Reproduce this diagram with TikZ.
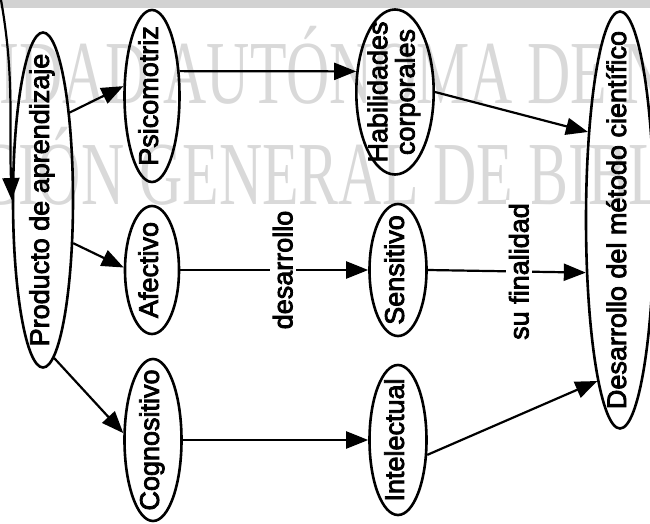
\documentclass[tikz,border=0pt]{standalone}
\usepackage{fontspec}
\setmainfont{Liberation Sans}[FakeBold=3]
\newfontfamily\marcafont{Liberation Serif}
\usetikzlibrary{shapes.geometric,arrows.meta}

% texto del ovalo sin ensanchar la elipse
\newcommand{\rotulo}[1]{\makebox[0pt]{\begin{tabular}{@{}c@{}}#1\end{tabular}}}

\tikzset{
  ovalo/.style={ellipse,draw,line width=2.6pt,inner sep=0pt,rotate=90,
    font=\fontsize{27}{26}\selectfont},
  flecha/.style={-{Triangle[length=22pt,width=17pt]},line width=2.2pt},
  etiqueta/.style={fill=white,rotate=90,inner sep=3pt,font=\fontsize{27}{27}\selectfont},
  marca/.style={text=gray!30,inner sep=0pt,xscale=0.665,
    font=\marcafont\fontsize{90}{90}\selectfont}
}

\begin{document}
\begin{tikzpicture}[x=1pt,y=1pt]
    % marco
    \useasboundingbox (0,0) rectangle (650,-524);
    \clip (0,0) rectangle (650,-524);
    \fill[gray!35] (0,0) rectangle (650,-8);

    % marca de agua
    \node[marca,anchor=base west] (marca1) at (-1,-104) {\llap{UNIVERS}IDAD AUTÓNOMA DE NUEVO LEÓN};
    \node[marca,anchor=base west] (marca2) at (-22,-204) {\llap{DIREC}CIÓN GENERAL DE BIBLIOTECAS};

    % producto
    \node[ovalo,minimum width=335pt,minimum height=60pt] (prod) at (43,-200) {\rotulo{Producto de aprendizaje}};

    % areas
    \node[ovalo,minimum width=172pt,minimum height=55pt] (psico) at (152,-96) {\rotulo{Psicomotriz}};
    \node[ovalo,minimum width=128pt,minimum height=54pt] (afect) at (152,-270) {\rotulo{Afectivo}};
    \node[ovalo,minimum width=162pt,minimum height=57pt] (cogn) at (153,-440) {\rotulo{Cognositivo}};

    % desarrollo de cada area
    \node[ovalo,minimum width=165pt,minimum height=76pt] (habil) at (395,-92) {\rotulo{Habilidades\\corporales}};
    \node[ovalo,minimum width=132pt,minimum height=57pt] (sens) at (398,-270) {\rotulo{Sensitivo}};
    \node[ovalo,minimum width=150pt,minimum height=57pt] (intel) at (398,-440) {\rotulo{Intelectual}};

    % finalidad
    \node[ovalo,minimum width=417pt,minimum height=68pt] (des) at (620,-220) {\rotulo{Desarrollo del método científico}};

    % flecha de entrada
    \coordinate (entrada) at (1,0);
    \draw[flecha] (entrada) to[out=-80,in=92] (prod.north);

    % del producto a las areas
    \draw[flecha] (prod.343) -- (psico.71);
    \draw[flecha] (prod.-145) -- (afect.85);
    \draw[flecha] (prod.-176) -- (cogn.77);

    % de las areas a su desarrollo
    \draw[flecha] (psico.-48) -- (habil.62);
    \draw[flecha] (afect.south) -- (sens.north) node[etiqueta,pos=0.545] (lbl1) {desarrollo};
    \draw[flecha] (cogn.south) -- (intel.north);

    % hacia el metodo cientifico
    \draw[flecha] (habil.south) -- (des.20);
    \draw[flecha] (sens.south) -- (des.147) node[etiqueta,pos=0.576] (lbl2) {su finalidad};
    \draw[flecha] (intel.-117) -- (des.172);
\end{tikzpicture}
\end{document}
